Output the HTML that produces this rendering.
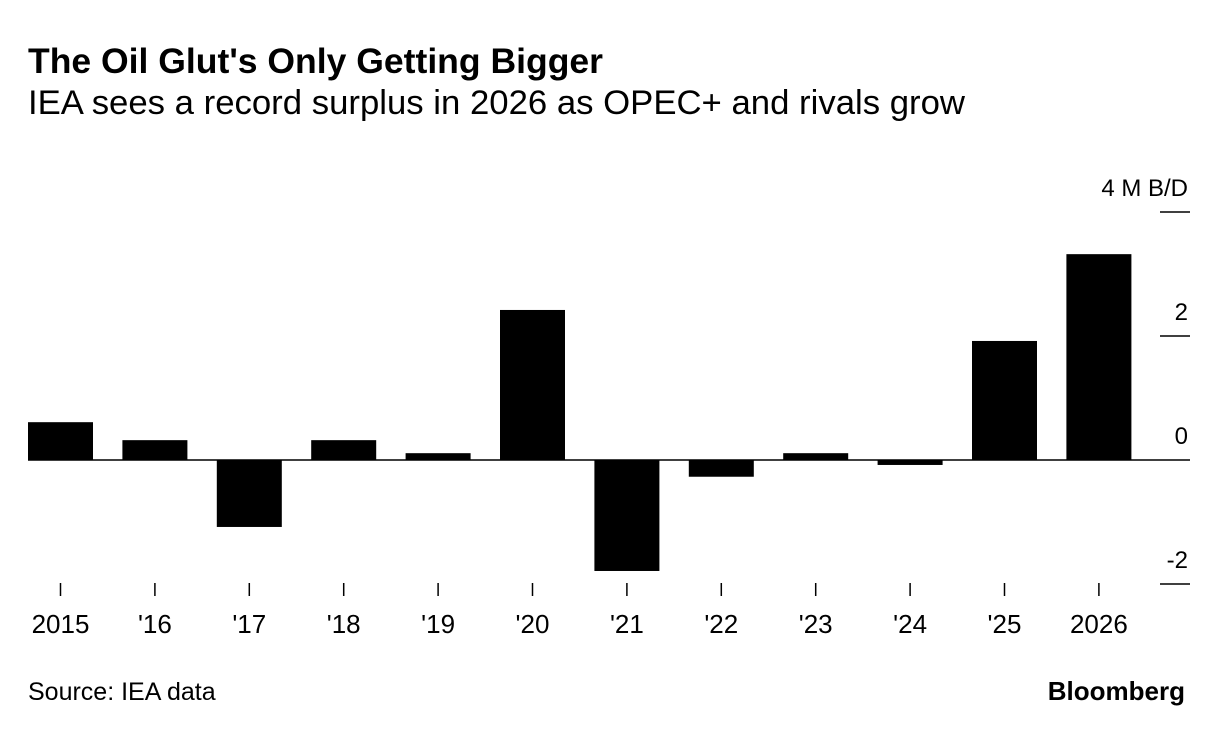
<!DOCTYPE html>
<html><head><meta charset="utf-8"><style>
body{margin:0;background:#fff;width:1223px;height:732px;overflow:hidden;font-family:"Liberation Sans",sans-serif;}
svg text{font-family:"Liberation Sans",sans-serif;}
</style></head><body>
<svg width="1223" height="732">
<text x="28" y="73" font-size="35" font-weight="bold" fill="#000" textLength="575" lengthAdjust="spacingAndGlyphs">The Oil Glut's Only Getting Bigger</text>
<text x="28" y="114" font-size="34" fill="#000" textLength="937" lengthAdjust="spacingAndGlyphs">IEA sees a record surplus in 2026 as OPEC+ and rivals grow</text>
<g id="plot"></g>
<text x="28" y="700" font-size="25" fill="#000">Source: IEA data</text>
<text x="1185" y="700" font-size="26" font-weight="bold" text-anchor="end" fill="#000">Bloomberg</text>
</svg>
<script>
const categories=["2015","'16","'17","'18","'19","'20","'21","'22","'23","'24","'25","2026"];
const values=[0.61,0.32,-1.08,0.32,0.11,2.42,-1.79,-0.27,0.11,-0.08,1.92,3.32];
const yTicks=[4,2,0,-2];
const yTickLabels=["4 M B/D","2","0","-2"];
const NS="http://www.w3.org/2000/svg";
const g=document.getElementById('plot');
function y(v){return 460-v*62;}
function xc(i){return 60.5+i*94.4;}
const bw=65;
function mk(t,a){const e=document.createElementNS(NS,t);for(const k in a)e.setAttribute(k,a[k]);g.appendChild(e);return e;}
yTicks.forEach((t,i)=>{
 const l=mk('line',{x1:t===0?28:1160,x2:1190,y1:y(t),y2:y(t),stroke:'#000','stroke-width':1.5});
 
 
 const tx=mk('text',{x:1188,y:y(t)-16,'font-size':24,'text-anchor':'end',fill:'#000'});
 tx.textContent=yTickLabels[i];
 
 
});
categories.forEach((c,i)=>{
 const v=values[i];
 const r=mk('rect',{x:xc(i)-bw/2,y:Math.min(y(v),y(0)),width:bw,height:Math.abs(y(v)-y(0)),fill:'#000'});
 
 
 const tk=mk('line',{x1:xc(i),x2:xc(i),y1:583,y2:596,stroke:'#000','stroke-width':1.5});
 
 
 const tx=mk('text',{x:xc(i),y:633,'font-size':26,'text-anchor':'middle',fill:'#000'});
 tx.textContent=c;
 
 
});
</script>
</body></html>
